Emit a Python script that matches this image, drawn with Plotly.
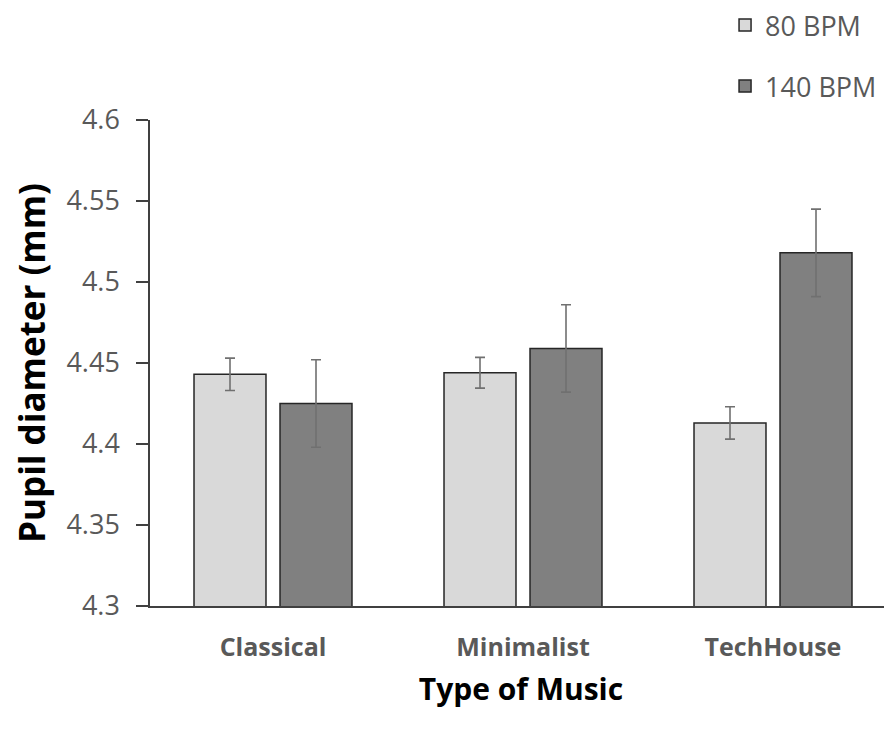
import plotly.graph_objects as go

categories = ["Classical", "Minimalist", "TechHouse"]
bpm80 = [4.443, 4.444, 4.413]
bpm80_err = [0.010, 0.0095, 0.010]
bpm140 = [4.425, 4.459, 4.518]
bpm140_err = [0.027, 0.027, 0.027]
series_names = ["80 BPM", "140 BPM"]
y_ticks = [4.3, 4.35, 4.4, 4.45, 4.5, 4.55, 4.6]

FONT = "'Open Sans', Lato, sans-serif"
GRAY_TXT = "#595959"

fig = go.Figure()
fig.add_trace(go.Bar(
    x=categories, y=bpm80, name=series_names[0], legendgroup="a",
    marker=dict(color="#d9d9d9", line=dict(color="#262626", width=1.5)),
    error_y=dict(type="data", array=bpm80_err, color="#707070", thickness=1.6, width=5),
))
fig.add_trace(go.Bar(
    x=categories, y=bpm140, name=series_names[1], legendgroup="b",
    marker=dict(color="#808080", line=dict(color="#262626", width=1.5)),
    error_y=dict(type="data", array=bpm140_err, color="#707070", thickness=1.6, width=5),
))

fig.update_layout(
    width=884, height=723,
    margin=dict(l=142, r=0, t=112, b=125, autoexpand=False),
    paper_bgcolor="white", plot_bgcolor="white",
    barmode="group", bargap=0.312, bargroupgap=0.163,
    font=dict(family=FONT, color=GRAY_TXT),
    showlegend=True,
    legend=dict(x=0.775, y=1.245, xanchor="left", yanchor="top",
                font=dict(size=27, color=GRAY_TXT, family=FONT),
                tracegroupgap=23, bgcolor="rgba(0,0,0,0)"),
    xaxis=dict(
        range=[-0.492, 2.476], showline=True, linecolor="#404040", linewidth=1.5,
        ticks="", tickfont=dict(size=25, color=GRAY_TXT, family=FONT),
        ticklabelstandoff=18, automargin=True,
        showgrid=False, zeroline=False,
        title=dict(text="<b>Type of Music</b>", font=dict(size=30, color="black", family=FONT), standoff=17),
    ),
    yaxis=dict(
        range=[4.3, 4.6], tickvals=y_ticks, ticktext=[f"{v:g}" for v in y_ticks],
        showline=True, linecolor="#404040", linewidth=1.5,
        ticks="outside", ticklen=12, tickcolor="#404040", tickwidth=1.5,
        ticklabelstandoff=11, automargin=True,
        tickfont=dict(size=27, color=GRAY_TXT, family=FONT),
        showgrid=False, zeroline=False,
        title=dict(text="<b>Pupil diameter (mm)</b>", font=dict(size=35, color="black", family=FONT), standoff=13),
    ),
)
fig.update_xaxes(tickprefix="<b>", ticksuffix="</b>")

fig.write_html("out.html")
